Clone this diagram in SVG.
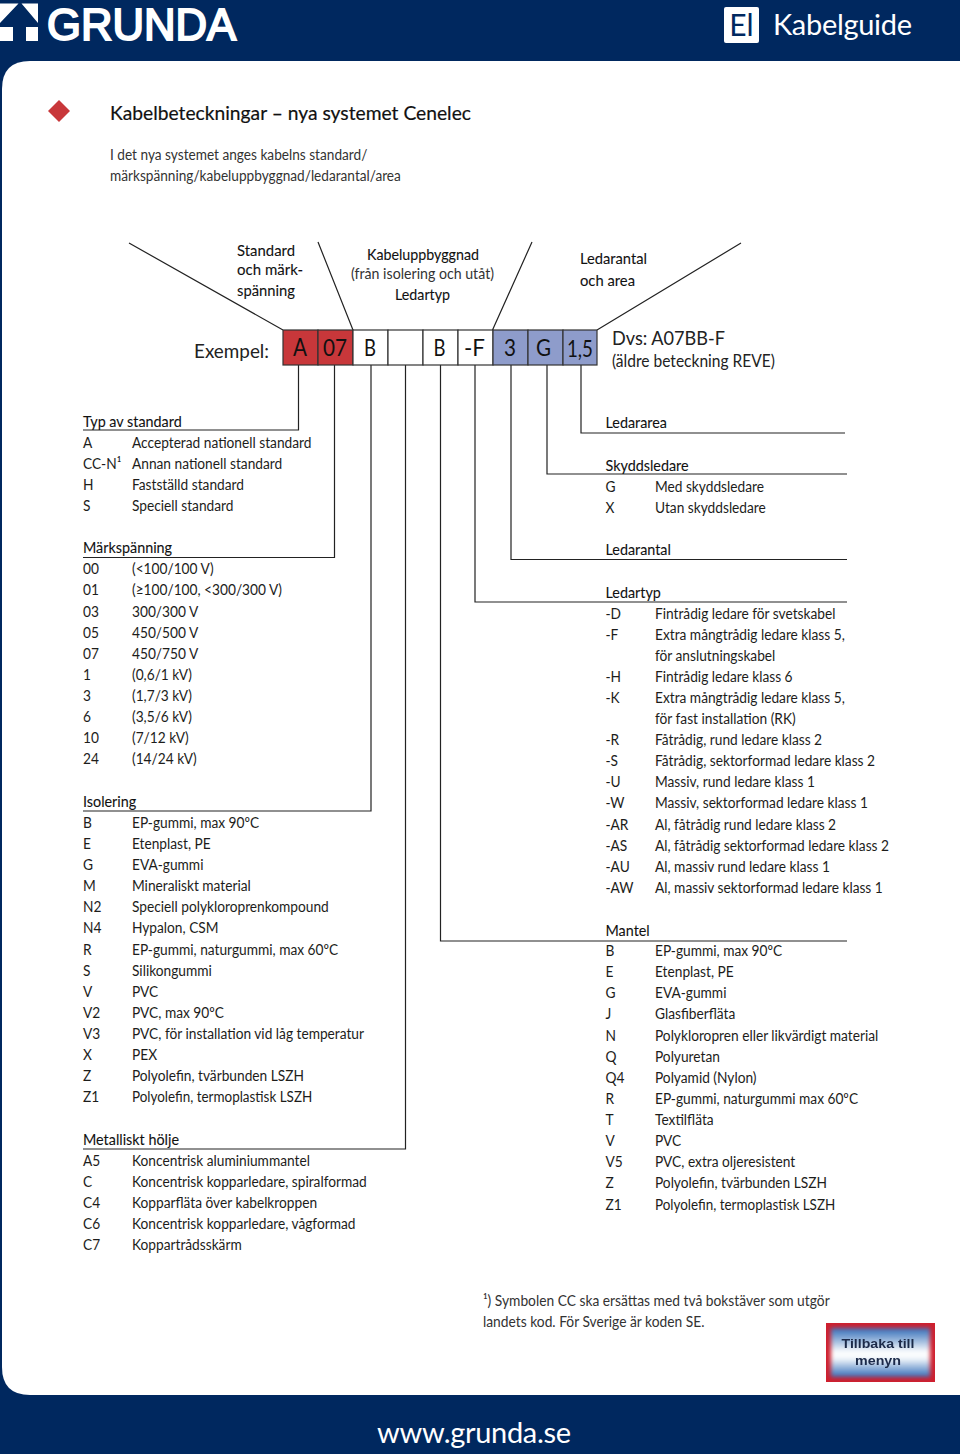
<svg xmlns="http://www.w3.org/2000/svg" width="960" height="1454" viewBox="0 0 960 1454">
<style>
text{font-family:"Lato","Noto Sans",sans-serif;fill:#1d1d1b;font-size:15px}
.h{font-size:15.7px;fill:#111;stroke:#111;stroke-width:.1}
.t{font-size:15px;fill:#333}
.c{font-size:23px;fill:#111;text-anchor:middle}
.ln{fill:none;stroke:#222;stroke-width:1.2}
.cell{stroke:#333;stroke-width:1.2}
.b{font-family:"Liberation Sans",sans-serif;font-size:13.5px;font-weight:700;fill:#1d2b4a;text-anchor:middle}
</style>
<defs>
<linearGradient id="bg" x1="0" y1="0" x2="0" y2="1"><stop offset="0" stop-color="#2f6cb8"/><stop offset=".5" stop-color="#fff"/><stop offset=".62" stop-color="#f4f8fc"/><stop offset="1" stop-color="#2f6cb8"/></linearGradient>
<filter id="soft" x="-10%" y="-10%" width="120%" height="120%"><feGaussianBlur stdDeviation="2.200"/></filter>
<filter id="softtext" x="-5%" y="-20%" width="110%" height="140%"><feGaussianBlur stdDeviation=".45"/></filter>
</defs>
<g id="frame">
<rect width="960" height="1454" fill="#00285f"/>
<path d="M960 61H30Q2 61 2 89V1367Q2 1395 30 1395H960Z" fill="#fff"/>
</g>
<g id="logo" fill="#fff">
<path d="M0 3.500H18.500L0 23ZM21.500 3.500H38V23Z"/>
<rect x="0" y="27" width="13" height="14"/><rect x="26" y="27" width="12" height="14"/>
<text x="47" y="40" style="font-family:'Liberation Sans',sans-serif;font-size:44.500px;fill:#fff;stroke:#fff;stroke-width:2" textLength="189" lengthAdjust="spacingAndGlyphs">GRUNDA</text>
</g>
<g id="title-badge">
<rect x="724" y="7" width="35" height="36" rx="2" fill="#fff"/>
<text x="741.500" y="36" style="font-size:30px;fill:#00285f;text-anchor:middle">El</text>
<text x="773" y="35" style="font-size:29px;fill:#fff" textLength="139" lengthAdjust="spacing">Kabelguide</text>
</g>
<path id="diamond" d="M59 100L70 111L59 122L48 111Z" fill="#c8373a"/>
<g id="title">
<text x="110" y="120" style="font-size:20px;fill:#111;stroke:#111;stroke-width:.2" textLength="361" lengthAdjust="spacingAndGlyphs">Kabelbeteckningar – nya systemet Cenelec</text>
</g>
<g id="intro" transform="scale(.91 1)">
<text x="120.880" y="160" class="t">I det nya systemet anges kabelns standard/</text>
<text x="120.880" y="181" class="t">märkspänning/kabeluppbyggnad/ledarantal/area</text>
</g>
<g id="connectors">
<path class="ln" d="M129 243L283 330M318 242L353 330M532 242L492.500 330M741 243L597 330"/>
<path class="ln" d="M298.500 365V430H83M334.500 365V557.500H83M371 365V811H83M405.500 365V1149H83M440.500 365V941H847M475 365V602H847M511 365V559.500H847M547 365V474H847M581 365V433H845"/>
</g>
<g id="bracket-labels">
<text x="237" y="256" class="h" textLength="58" lengthAdjust="spacingAndGlyphs">Standard</text><text x="237" y="275" class="h" textLength="66" lengthAdjust="spacingAndGlyphs">och märk-</text><text x="237" y="296" class="h" textLength="58" lengthAdjust="spacingAndGlyphs">spänning</text>
<text x="367" y="260" class="h" textLength="112" lengthAdjust="spacingAndGlyphs">Kabeluppbyggnad</text><text x="351" y="279" class="t" textLength="143" lengthAdjust="spacingAndGlyphs">(från isolering och utåt)</text><text x="395" y="300" class="h" textLength="55" lengthAdjust="spacingAndGlyphs">Ledartyp</text>
<text x="580" y="264" class="h" textLength="67" lengthAdjust="spacingAndGlyphs">Ledarantal</text><text x="580" y="286" class="h" textLength="55" lengthAdjust="spacingAndGlyphs">och area</text>
</g>
<g id="example">
<text x="194" y="358" style="font-size:20px;fill:#222" textLength="75" lengthAdjust="spacingAndGlyphs">Exempel:</text>
<rect class="cell" x="283" y="330" width="35" height="35" fill="#c8373a"/><rect class="cell" x="318" y="330" width="35" height="35" fill="#c8373a"/>
<rect class="cell" x="353" y="330" width="35" height="35" fill="#fff"/><rect class="cell" x="388" y="330" width="35" height="35" fill="#fff"/><rect class="cell" x="423" y="330" width="35" height="35" fill="#fff"/><rect class="cell" x="458" y="330" width="35" height="35" fill="#fff"/>
<rect class="cell" x="493" y="330" width="35" height="35" fill="#8e9ccb"/><rect class="cell" x="528" y="330" width="35" height="35" fill="#8e9ccb"/><rect class="cell" x="563" y="330" width="34" height="35" fill="#8e9ccb"/>
<text x="300" y="355.500" class="c" style="font-size:25px" textLength="14" lengthAdjust="spacingAndGlyphs">A</text><text x="335" y="355.500" class="c" textLength="24" lengthAdjust="spacingAndGlyphs">07</text><text x="370" y="355.500" class="c" textLength="12" lengthAdjust="spacingAndGlyphs">B</text><text x="439.500" y="355.500" class="c" textLength="12" lengthAdjust="spacingAndGlyphs">B</text><text x="474.500" y="355.500" class="c" textLength="21" lengthAdjust="spacingAndGlyphs">-F</text><text x="510" y="355.500" class="c" textLength="12" lengthAdjust="spacingAndGlyphs">3</text><text x="543.500" y="355.500" class="c" textLength="15" lengthAdjust="spacingAndGlyphs">G</text><text x="580" y="357" class="c" textLength="26" lengthAdjust="spacingAndGlyphs">1,5</text>
<text x="612" y="345" style="font-size:19.500px;fill:#222" textLength="113" lengthAdjust="spacingAndGlyphs">Dvs: A07BB-F</text>
<text x="612" y="367" style="font-size:17px;fill:#222" textLength="163" lengthAdjust="spacingAndGlyphs">(äldre beteckning REVE)</text>
</g>
<g id="left-tables" class="t" transform="scale(.915 1)">
<text x="90.710" y="427" class="h">Typ av standard</text>
<text x="90.710" y="448">A</text><text x="144.260" y="448">Accepterad nationell standard</text>
<text x="90.710" y="469">CC-N¹</text><text x="144.260" y="469">Annan nationell standard</text>
<text x="90.710" y="490">H</text><text x="144.260" y="490">Fastställd standard</text>
<text x="90.710" y="511">S</text><text x="144.260" y="511">Speciell standard</text>
<text x="90.710" y="553" class="h">Märkspänning</text>
<text x="90.710" y="574">00</text><text x="144.260" y="574">(&lt;100/100 V)</text>
<text x="90.710" y="595">01</text><text x="144.260" y="595">(≥100/100, &lt;300/300 V)</text>
<text x="90.710" y="617">03</text><text x="144.260" y="617">300/300 V</text>
<text x="90.710" y="638">05</text><text x="144.260" y="638">450/500 V</text>
<text x="90.710" y="659">07</text><text x="144.260" y="659">450/750 V</text>
<text x="90.710" y="680">1</text><text x="144.260" y="680">(0,6/1 kV)</text>
<text x="90.710" y="701">3</text><text x="144.260" y="701">(1,7/3 kV)</text>
<text x="90.710" y="722">6</text><text x="144.260" y="722">(3,5/6 kV)</text>
<text x="90.710" y="743">10</text><text x="144.260" y="743">(7/12 kV)</text>
<text x="90.710" y="764">24</text><text x="144.260" y="764">(14/24 kV)</text>
<text x="90.710" y="807" class="h">Isolering</text>
<text x="90.710" y="828">B</text><text x="144.260" y="828">EP-gummi, max 90ºC</text>
<text x="90.710" y="849">E</text><text x="144.260" y="849">Etenplast, PE</text>
<text x="90.710" y="870">G</text><text x="144.260" y="870">EVA-gummi</text>
<text x="90.710" y="891">M</text><text x="144.260" y="891">Mineraliskt material</text>
<text x="90.710" y="912">N2</text><text x="144.260" y="912">Speciell polykloroprenkompound</text>
<text x="90.710" y="933">N4</text><text x="144.260" y="933">Hypalon, CSM</text>
<text x="90.710" y="955">R</text><text x="144.260" y="955">EP-gummi, naturgummi, max 60ºC</text>
<text x="90.710" y="976">S</text><text x="144.260" y="976">Silikongummi</text>
<text x="90.710" y="997">V</text><text x="144.260" y="997">PVC</text>
<text x="90.710" y="1018">V2</text><text x="144.260" y="1018">PVC, max 90ºC</text>
<text x="90.710" y="1039">V3</text><text x="144.260" y="1039">PVC, för installation vid låg temperatur</text>
<text x="90.710" y="1060">X</text><text x="144.260" y="1060">PEX</text>
<text x="90.710" y="1081">Z</text><text x="144.260" y="1081">Polyolefin, tvärbunden LSZH</text>
<text x="90.710" y="1102">Z1</text><text x="144.260" y="1102" textLength="197" lengthAdjust="spacingAndGlyphs">Polyolefin, termoplastisk LSZH</text>
<text x="90.710" y="1145" class="h">Metalliskt hölje</text>
<text x="90.710" y="1166">A5</text><text x="144.260" y="1166">Koncentrisk aluminiummantel</text>
<text x="90.710" y="1187">C</text><text x="144.260" y="1187">Koncentrisk kopparledare, spiralformad</text>
<text x="90.710" y="1208">C4</text><text x="144.260" y="1208">Kopparfläta över kabelkroppen</text>
<text x="90.710" y="1229">C6</text><text x="144.260" y="1229">Koncentrisk kopparledare, vågformad</text>
<text x="90.710" y="1250">C7</text><text x="144.260" y="1250">Koppartrådsskärm</text>
</g>
<g id="right-tables" class="t" transform="scale(.915 1)">
<text x="661.750" y="428" class="h">Ledararea</text>
<text x="661.750" y="471" class="h">Skyddsledare</text>
<text x="661.750" y="492">G</text><text x="715.850" y="492">Med skyddsledare</text>
<text x="661.750" y="513">X</text><text x="715.850" y="513">Utan skyddsledare</text>
<text x="661.750" y="555" class="h">Ledarantal</text>
<text x="661.750" y="598" class="h">Ledartyp</text>
<text x="661.750" y="619">-D</text><text x="715.850" y="619">Fintrådig ledare för svetskabel</text>
<text x="661.750" y="640">-F</text><text x="715.850" y="640">Extra mångtrådig ledare klass 5,</text>
<text x="715.850" y="661">för anslutningskabel</text>
<text x="661.750" y="682">-H</text><text x="715.850" y="682">Fintrådig ledare klass 6</text>
<text x="661.750" y="703">-K</text><text x="715.850" y="703">Extra mångtrådig ledare klass 5,</text>
<text x="715.850" y="724">för fast installation (RK)</text>
<text x="661.750" y="745">-R</text><text x="715.850" y="745">Fåtrådig, rund ledare klass 2</text>
<text x="661.750" y="766">-S</text><text x="715.850" y="766">Fåtrådig, sektorformad ledare klass 2</text>
<text x="661.750" y="787">-U</text><text x="715.850" y="787">Massiv, rund ledare klass 1</text>
<text x="661.750" y="808">-W</text><text x="715.850" y="808">Massiv, sektorformad ledare klass 1</text>
<text x="661.750" y="830">-AR</text><text x="715.850" y="830">Al, fåtrådig rund ledare klass 2</text>
<text x="661.750" y="851">-AS</text><text x="715.850" y="851">Al, fåtrådig sektorformad ledare klass 2</text>
<text x="661.750" y="872">-AU</text><text x="715.850" y="872">Al, massiv rund ledare klass 1</text>
<text x="661.750" y="893">-AW</text><text x="715.850" y="893">Al, massiv sektorformad ledare klass 1</text>
<text x="661.750" y="936" class="h">Mantel</text>
<text x="661.750" y="956">B</text><text x="715.850" y="956">EP-gummi, max 90ºC</text>
<text x="661.750" y="977">E</text><text x="715.850" y="977">Etenplast, PE</text>
<text x="661.750" y="998">G</text><text x="715.850" y="998">EVA-gummi</text>
<text x="661.750" y="1019">J</text><text x="715.850" y="1019">Glasfiberfläta</text>
<text x="661.750" y="1041">N</text><text x="715.850" y="1041">Polykloropren eller likvärdigt material</text>
<text x="661.750" y="1062">Q</text><text x="715.850" y="1062">Polyuretan</text>
<text x="661.750" y="1083">Q4</text><text x="715.850" y="1083">Polyamid (Nylon)</text>
<text x="661.750" y="1104">R</text><text x="715.850" y="1104">EP-gummi, naturgummi max 60ºC</text>
<text x="661.750" y="1125">T</text><text x="715.850" y="1125">Textilfläta</text>
<text x="661.750" y="1146">V</text><text x="715.850" y="1146">PVC</text>
<text x="661.750" y="1167">V5</text><text x="715.850" y="1167">PVC, extra oljeresistent</text>
<text x="661.750" y="1188">Z</text><text x="715.850" y="1188">Polyolefin, tvärbunden LSZH</text>
<text x="661.750" y="1210">Z1</text><text x="715.850" y="1210" textLength="197" lengthAdjust="spacingAndGlyphs">Polyolefin, termoplastisk LSZH</text>
</g>
<g id="footnote" transform="scale(.92 1)">
<text x="525" y="1306" class="t">¹) Symbolen CC ska ersättas med två bokstäver som utgör</text>
<text x="525" y="1327" class="t">landets kod. För Sverige är koden SE.</text>
</g>
<g id="back-button">
<rect x="826" y="1323" width="109" height="59" fill="#cf1f2e"/>
<rect x="831" y="1328" width="99" height="49" fill="url(#bg)" filter="url(#soft)"/>
<g filter="url(#softtext)">
<text x="878" y="1348" class="b" textLength="73" lengthAdjust="spacingAndGlyphs">Tillbaka till</text>
<text x="878" y="1365" class="b" textLength="46" lengthAdjust="spacingAndGlyphs">menyn</text>
</g>
</g>
<text id="url" x="377" y="1443" style="font-size:29px;fill:#fff" textLength="194" lengthAdjust="spacing">www.grunda.se</text>
</svg>
